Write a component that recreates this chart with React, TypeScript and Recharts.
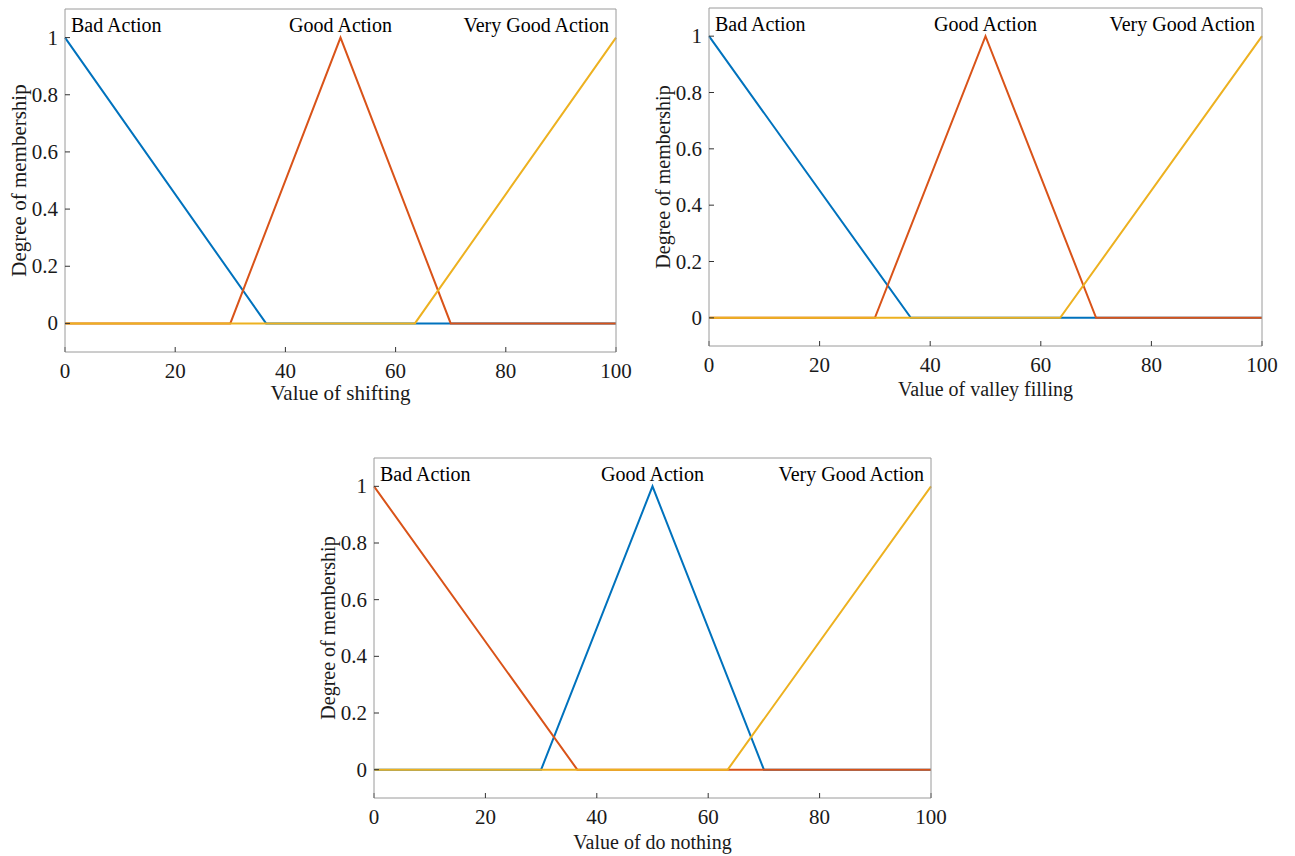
import React from 'react';
import { LineChart, Line, XAxis, YAxis, ReferenceDot } from 'recharts';

// membership functions (x, degree)
const badX = [0, 36.5, 100];
const badY = [1, 0, 0];
const goodX = [0, 30, 50, 70, 100];
const goodY = [0, 0, 1, 0, 0];
const veryGoodX = [0, 63.5, 100];
const veryGoodY = [0, 0, 1];

const setNames = ['Bad Action', 'Good Action', 'Very Good Action'];
const xTitles = ['Value of shifting', 'Value of valley filling', 'Value of do nothing'];
const xTicks = [0, 20, 40, 60, 80, 100];
const yTicks = [0, 0.2, 0.4, 0.6, 0.8, 1];

const BLUE = '#0072BD';
const ORANGE = '#D95319';
const YELLOW = '#EDB120';

const FONT = '"Liberation Serif", "Times New Roman", serif';
const TEXT = '#1a1a1a';
const BOX = '#9a9a9a';
const TICK = '#333';

const toPoints = (xs: number[], ys: number[]) => xs.map((x, i) => ({ x, y: ys[i] }));

type Series = { name: string; color: string; points: { x: number; y: number }[] };

type PanelProps = {
    left: number;
    top: number;
    width: number;
    height: number;
    margin: { top: number; right: number; left: number; bottom: number };
    yAxisWidth: number;
    xAxisHeight: number;
    xTitle: string;
    xTitleGap: number;
    titleSize: number;
    series: Series[]; // drawing order
};

const SerifTick = (p: any) => (
    <text
        x={p.x}
        y={p.y}
        textAnchor={p.textAnchor}
        dominantBaseline="central"
        fontSize={21}
        fontFamily={FONT}
        fill={TEXT}
    >
        {String(p.payload.value)}
    </text>
);

const Panel: React.FC<PanelProps> = ({
    left,
    top,
    width,
    height,
    margin,
    yAxisWidth,
    xAxisHeight,
    xTitle,
    xTitleGap,
    titleSize,
    series,
}) => {
    const noLabel = () => '';
    const noteStyle = { fontSize: 20, fontFamily: FONT, fill: '#000' };
    return (
        <div style={{ position: 'absolute', left, top, fontFamily: FONT }}>
            <LineChart width={width} height={height} margin={margin}>
                <XAxis
                    xAxisId="b"
                    type="number"
                    dataKey="x"
                    domain={[0, 100]}
                    ticks={xTicks}
                    height={xAxisHeight}
                    tickSize={-5}
                    tickMargin={24}
                    tick={SerifTick}
                    axisLine={{ stroke: BOX }}
                    tickLine={{ stroke: TICK }}
                    label={{
                        content: (p: any) => {
                            const vb = p.viewBox;
                            return (
                                <text
                                    x={vb.x + vb.width / 2}
                                    y={vb.y + xTitleGap}
                                    textAnchor="middle"
                                    dominantBaseline="central"
                                    fontSize={titleSize}
                                    fontFamily={FONT}
                                    fill={TEXT}
                                >
                                    {xTitle}
                                </text>
                            );
                        },
                    }}
                />
                <XAxis
                    xAxisId="t"
                    orientation="top"
                    type="number"
                    dataKey="x"
                    domain={[0, 100]}
                    ticks={xTicks}
                    height={1}
                    tickSize={-5}
                    tickFormatter={noLabel}
                    axisLine={{ stroke: BOX }}
                    tickLine={{ stroke: TICK }}
                />
                <YAxis
                    yAxisId="l"
                    type="number"
                    dataKey="y"
                    domain={[-0.1, 1.1]}
                    ticks={yTicks}
                    width={yAxisWidth}
                    tickSize={-5}
                    tickMargin={12}
                    tick={SerifTick}
                    axisLine={{ stroke: BOX }}
                    tickLine={{ stroke: TICK }}
                    label={{
                        content: (p: any) => {
                            const vb = p.viewBox;
                            const cx = vb.x + vb.width - 46;
                            const cy = vb.y + vb.height / 2;
                            return (
                                <text
                                    x={cx}
                                    y={cy}
                                    transform={`rotate(-90 ${cx} ${cy})`}
                                    textAnchor="middle"
                                    dominantBaseline="central"
                                    fontSize={titleSize}
                                    fontFamily={FONT}
                                    fill={TEXT}
                                >
                                    Degree of membership
                                </text>
                            );
                        },
                    }}
                />
                <YAxis
                    yAxisId="r"
                    orientation="right"
                    type="number"
                    dataKey="y"
                    domain={[-0.1, 1.1]}
                    ticks={yTicks}
                    width={1}
                    tickSize={-5}
                    tickFormatter={noLabel}
                    axisLine={{ stroke: BOX }}
                    tickLine={{ stroke: TICK }}
                />
                {series.map((s) => (
                    <Line
                        key={s.name}
                        xAxisId="b"
                        yAxisId="l"
                        data={s.points}
                        dataKey="y"
                        type="linear"
                        stroke={s.color}
                        strokeWidth={2}
                        dot={false}
                        activeDot={false}
                        isAnimationActive={false}
                    />
                ))}
                <ReferenceDot
                    xAxisId="b"
                    yAxisId="l"
                    x={0}
                    y={1.045}
                    r={0}
                    fill="none"
                    stroke="none"
                    label={{ value: setNames[0], position: 'right', offset: 6, ...noteStyle }}
                />
                <ReferenceDot
                    xAxisId="b"
                    yAxisId="l"
                    x={50}
                    y={1.045}
                    r={0}
                    fill="none"
                    stroke="none"
                    label={{ value: setNames[1], position: 'center', ...noteStyle }}
                />
                <ReferenceDot
                    xAxisId="b"
                    yAxisId="l"
                    x={100}
                    y={1.045}
                    r={0}
                    fill="none"
                    stroke="none"
                    label={{ value: setNames[2], position: 'left', offset: 7, ...noteStyle }}
                />
            </LineChart>
        </div>
    );
};

const bad = (color: string): Series => ({ name: setNames[0], color, points: toPoints(badX, badY) });
const good = (color: string): Series => ({ name: setNames[1], color, points: toPoints(goodX, goodY) });
const veryGood = (color: string): Series => ({ name: setNames[2], color, points: toPoints(veryGoodX, veryGoodY) });

export default function App() {
    return (
        <div style={{ position: 'absolute', left: 0, top: 0, width: 1295, height: 856, background: '#fff' }}>
            <Panel
                left={0}
                top={0}
                width={640}
                height={406}
                margin={{ top: 8, right: 23, left: 0, bottom: 6 }}
                yAxisWidth={65}
                xAxisHeight={48}
                xTitle={xTitles[0]}
                xTitleGap={41}
                titleSize={21}
                series={[bad(BLUE), good(ORANGE), veryGood(YELLOW)]}
            />
            <Panel
                left={645}
                top={0}
                width={650}
                height={404}
                margin={{ top: 7, right: 32, left: 0, bottom: 0 }}
                yAxisWidth={64}
                xAxisHeight={58}
                xTitle={xTitles[1]}
                xTitleGap={43}
                titleSize={20}
                series={[bad(BLUE), good(ORANGE), veryGood(YELLOW)]}
            />
            <Panel
                left={300}
                top={440}
                width={660}
                height={416}
                margin={{ top: 17, right: 28, left: 0, bottom: 0 }}
                yAxisWidth={74}
                xAxisHeight={58}
                xTitle={xTitles[2]}
                xTitleGap={44}
                titleSize={20}
                series={[good(BLUE), bad(ORANGE), veryGood(YELLOW)]}
            />
        </div>
    );
}
